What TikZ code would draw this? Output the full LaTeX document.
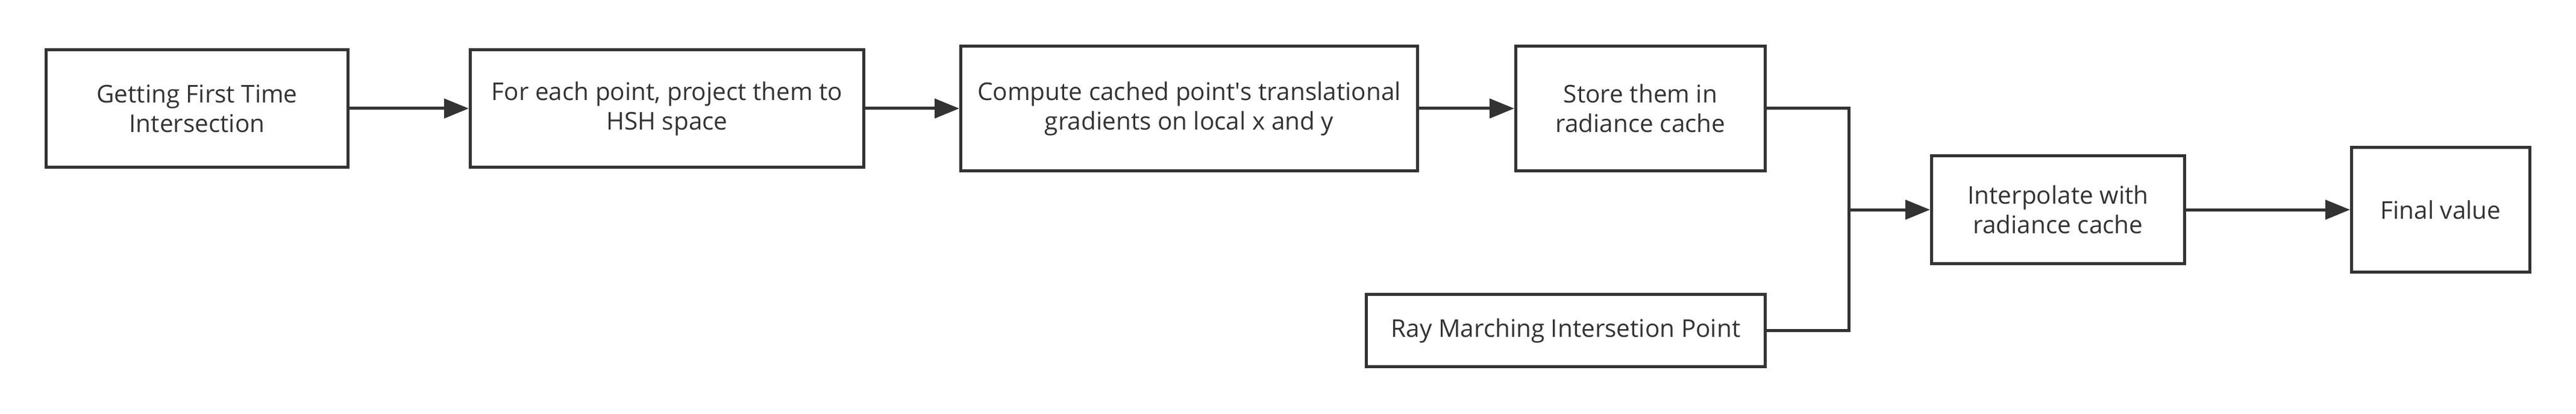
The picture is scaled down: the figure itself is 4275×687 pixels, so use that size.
\documentclass[tikz,border=0pt]{standalone}
\usepackage{fontspec}
\setmainfont{Open Sans}
\usetikzlibrary{shapes,arrows.meta}
\usetikzlibrary{positioning}
\definecolor{ink}{HTML}{333333}
\tikzstyle{block} = [rectangle, draw=ink, line width=5pt, text=ink, align=center, inner sep=0pt, minimum height=195pt, font=\fontsize{40.5}{49}\selectfont]
\tikzstyle{wire} = [draw=ink, line width=5pt]
\tikzstyle{line} = [wire, -{Triangle[length=41pt,width=32pt]}]

\begin{document}
\begin{tikzpicture}
	\useasboundingbox (0,0) rectangle (4275pt,-687pt);
	% Place nodes
	\node [block, minimum width=501pt] (first) at (327pt,-180pt) {Getting First Time\\Intersection};
	\node [block, minimum width=653pt, right=198pt of first] (hsh) {For each point, project them to\\HSH space};
	\node [block, minimum width=758pt, minimum height=207pt, right=156pt of hsh] (grad) {Compute cached point\textquotesingle s translational\\gradients on local x and y};
	\node [block, minimum width=414pt, minimum height=207pt, right=158pt of grad] (store) {Store them in\\radiance cache};
	\node [block, minimum width=662pt, minimum height=120pt, below=200pt of store.south east, anchor=north east] (ray) {Ray Marching Intersetion Point};
	\node [block, minimum width=420pt, minimum height=179pt, below right=168pt and 271pt of store.east, anchor=west] (interp) {Interpolate with\\radiance cache};
	\node [block, minimum width=296pt, minimum height=207pt, right=272pt of interp] (final) {Final value};
	\coordinate [left=135pt of interp.west] (join);
	
	% Draw edges
	\path [line] (first) -- (hsh);
	\path [line] (hsh) -- (grad);
	\path [line] (grad) -- (store);
	\path [wire] (store.east) -| (join) |- (ray.east);
	\path [line] (join) -- (interp);
	\path [line] (interp) -- (final);
\end{tikzpicture}
\end{document}
